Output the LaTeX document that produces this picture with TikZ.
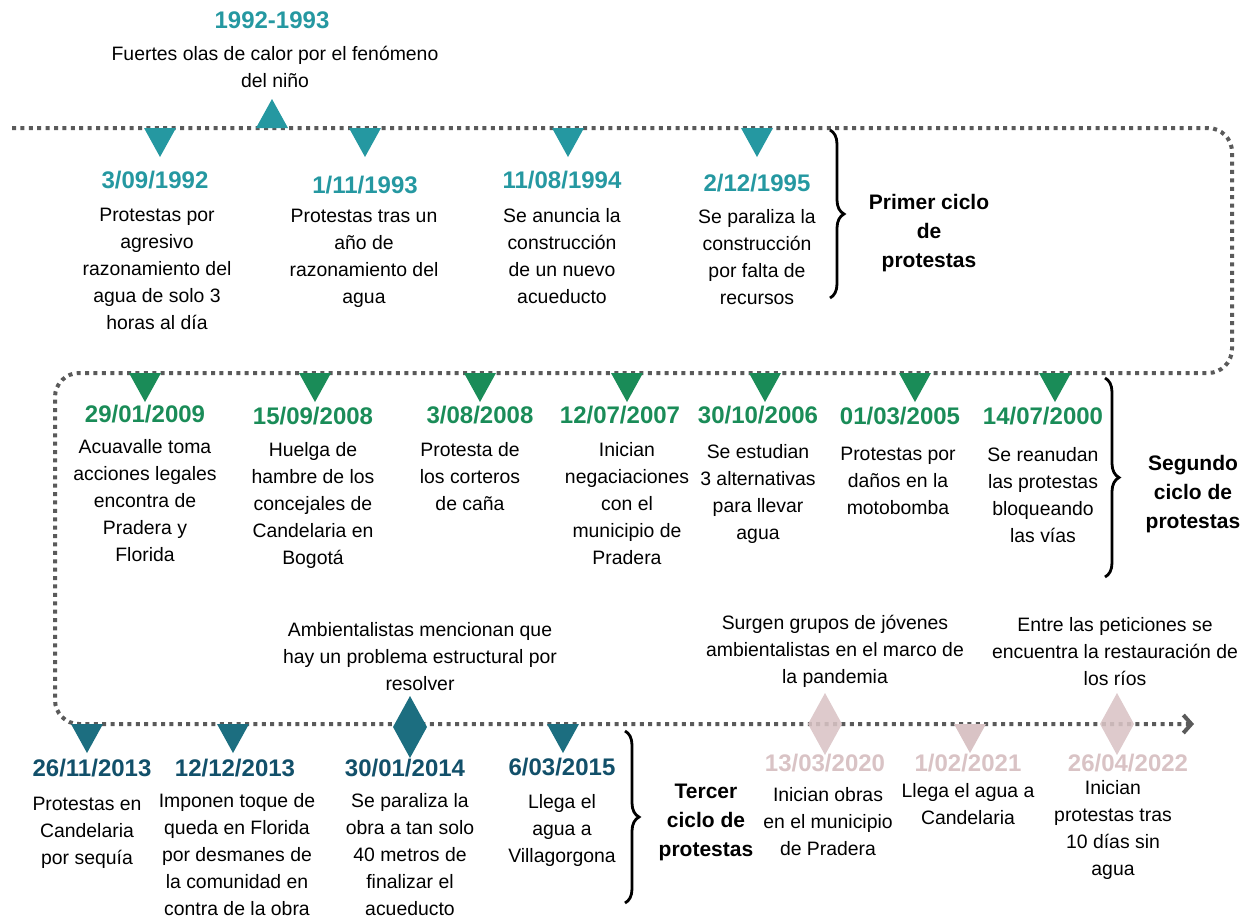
\documentclass[tikz,border=0pt]{standalone}
\usepackage{fontspec}
\setmainfont{Liberation Sans}
\usetikzlibrary{positioning,decorations.pathreplacing,arrows.meta}

\definecolor{tealA}{HTML}{2598A1}
\definecolor{greenA}{HTML}{1A8C58}
\definecolor{navyA}{HTML}{1C6E80}
\definecolor{navyB}{HTML}{12506A}
\definecolor{roseA}{HTML}{D9C3C5}
\definecolor{trackgray}{HTML}{5A5A5A}

\tikzset{
  track/.style={line width=2pt, draw=trackgray, dash pattern=on 2pt off 2.2pt},
  datelbl/.style={font=\fontsize{12}{14}\selectfont\bfseries, inner sep=0pt},
  desc/.style={font=\fontsize{9.7}{13.5}\selectfont, align=center, inner sep=0pt, anchor=north},
  cyclelbl/.style={font=\fontsize{10.5}{14.5}\selectfont\bfseries, align=center, inner sep=0pt},
  cyclebrace/.style={decorate, decoration={brace, amplitude=7pt}, line width=1.4pt},
  downmark/.pic={\fill[#1] (-16,0) -- (16,0) -- (0,29) -- cycle;},
  upmark/.pic={\fill[#1] (-16,0) -- (16,0) -- (0,-29) -- cycle;},
  diamark/.pic={\fill[#1] (0,-31) -- (17,0) -- (0,31) -- (-17,0) -- cycle;},
}

\begin{document}
\begin{tikzpicture}[x=0.5pt, y=-0.5pt]
    \useasboundingbox (0,0) rectangle (1249,918);

    %track
    \coordinate (t0) at (12,128);
    \coordinate (t1) at (1232,128);
    \coordinate (t2) at (1232,373);
    \coordinate (t3) at (55,373);
    \coordinate (t4) at (55,724);
    \coordinate (t5) at (1194,724);
    \draw[track, rounded corners=12pt, -{Straight Barb[length=4pt, width=9pt]}]
        (t0) -- (t1) -- (t2) -- (t3) -- (t4) -- (t5);

    %first cycle
    \foreach \x in {160,365,568,757}
        \pic at (\x,128) {downmark=tealA};
    \pic at (272,128) {upmark=tealA};

    \node[datelbl, tealA] (n9293) at (272,20) {1992-1993};
    \node[desc, anchor=center] (t9293) at (275,67) {Fuertes olas de calor por el fenómeno\\del niño};

    \node[datelbl, tealA] (d1) at (155,180) {3/09/1992};
    \node[desc] (e1) at (157,208) {Protestas por\\agresivo\\razonamiento del\\agua de solo 3\\horas al día};
    \node[datelbl, tealA] (d2) at (365,185) {1/11/1993};
    \node[desc] (e2) at (364,209) {Protestas tras un\\año de\\razonamiento del\\agua};
    \node[datelbl, tealA] (d3) at (562,180) {11/08/1994};
    \node[desc] (e3) at (562,208) {Se anuncia la\\construcción\\de un nuevo\\acueducto};
    \node[datelbl, tealA] (d4) at (757,183) {2/12/1995};
    \node[desc] (e4) at (757,209) {Se paraliza la\\construcción\\por falta de\\recursos};

    \draw[cyclebrace] (830,130) -- (830,298);
    \node[cyclelbl] (c1) at (929,233) {Primer ciclo\\de\\protestas};

    %second cycle
    \foreach \x in {145,315,480,627,765,915,1055}
        \pic at (\x,373) {downmark=greenA};

    \node[datelbl, greenA] (d5) at (145,414) {29/01/2009};
    \node[desc] (e5) at (145,439) {Acuavalle toma\\acciones legales\\encontra de\\Pradera y\\Florida};
    \node[datelbl, greenA] (d6) at (313,416) {15/09/2008};
    \node[desc] (e6) at (313,442) {Huelga de\\hambre de los\\concejales de\\Candelaria en\\Bogotá};
    \node[datelbl, greenA] (d7) at (480,415) {3/08/2008};
    \node[desc] (e7) at (470,442) {Protesta de\\los corteros\\de caña};
    \node[datelbl, greenA] (d8) at (620,415) {12/07/2007};
    \node[desc] (e8) at (627,442) {Inician\\negaciaciones\\con el\\municipio de\\Pradera};
    \node[datelbl, greenA] (d9) at (758,415) {30/10/2006};
    \node[desc] (e9) at (758,444) {Se estudian\\3 alternativas\\para llevar\\agua};
    \node[datelbl, greenA] (d10) at (900,416) {01/03/2005};
    \node[desc] (e10) at (898,447) {Protestas por\\daños en la\\motobomba};
    \node[datelbl, greenA] (d11) at (1043,416) {14/07/2000};
    \node[desc] (e11) at (1043,447) {Se reanudan\\las protestas\\bloqueando\\las vías};

    \draw[cyclebrace] (1105,378) -- (1105,577);
    \node[cyclelbl] (c2) at (1193,494) {Segundo\\ciclo de\\protestas};

    %third cycle
    \foreach \x in {87,233,563}
        \pic at (\x,724) {downmark=navyA};
    \pic at (410,727) {diamark=navyA};

    \node[desc, anchor=center] (a1) at (420,657) {Ambientalistas mencionan que\\hay un problema estructural por\\resolver};

    \node[datelbl, navyB] (d12) at (92,768) {26/11/2013};
    \node[desc] (e12) at (87,797) {Protestas en\\Candelaria\\por sequía};
    \node[datelbl, navyB] (d13) at (235,768) {12/12/2013};
    \node[desc] (e13) at (237,793) {Imponen toque de\\queda en Florida\\por desmanes de\\la comunidad en\\contra de la obra};
    \node[datelbl, navyB] (d14) at (405,768) {30/01/2014};
    \node[desc] (e14) at (410,793) {Se paraliza la\\obra a tan solo\\40 metros de\\finalizar el\\acueducto};
    \node[datelbl, navyB] (d15) at (562,767) {6/03/2015};
    \node[desc] (e15) at (562,794) {Llega el\\agua a\\Villagorgona};

    \draw[cyclebrace] (625,731) -- (625,903);
    \node[cyclelbl] (c3) at (706,822) {Tercer\\ciclo de\\protestas};

    %recent events
    \pic[fill opacity=0.88] at (825,724) {diamark=roseA};
    \pic at (970,724) {downmark=roseA};
    \pic[fill opacity=0.88] at (1117,724) {diamark=roseA};

    \node[desc, anchor=center] (a2) at (835,651) {Surgen grupos de jóvenes\\ambientalistas en el marco de\\la pandemia};
    \node[desc, anchor=center] (a3) at (1115,652) {Entre las peticiones se\\encuentra la restauración de\\los ríos};

    \node[datelbl, roseA] (d16) at (825,763) {13/03/2020};
    \node[desc] (e16) at (828,787) {Inician obras\\en el municipio\\de Pradera};
    \node[datelbl, roseA] (d17) at (968,763) {1/02/2021};
    \node[desc] (e17) at (968,783) {Llega el agua a\\Candelaria};
    \node[datelbl, roseA] (d18) at (1128,763) {26/04/2022};
    \node[desc] (e18) at (1113,780) {Inician\\protestas tras\\10 días sin\\agua};

\end{tikzpicture}
\end{document}
